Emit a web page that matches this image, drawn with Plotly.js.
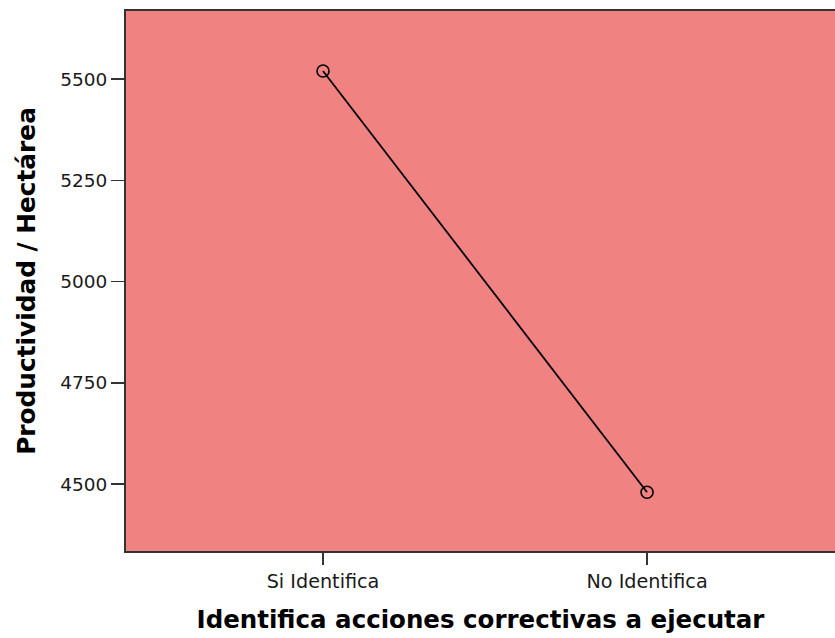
<!DOCTYPE html>
<html>
<head>
<meta charset="utf-8">
<script src="https://cdn.plot.ly/plotly-3.0.1.min.js"></script>
<style>html,body{margin:0;padding:0;background:#fff;}#chart{width:835px;height:638px;}</style>
</head>
<body>
<div id="chart"></div>
<script>
const categories = ["Si Identifica", "No Identifica"];
const meanValues = [5520, 4480];
const yTickValues = [4500, 4750, 5000, 5250, 5500];
const yTickLabels = ["4500", "4750", "5000", "5250", "5500"];

const trace = {
  x: [0, 1],
  y: meanValues,
  type: "scatter",
  mode: "lines+markers",
  line: {color: "#000000", width: 1.8},
  marker: {symbol: "circle-open", size: 12, color: "#000000", line: {width: 1.6, color: "#000000"}},
  hoverinfo: "x+y"
};

const layout = {
  width: 835,
  height: 638,
  margin: {l: 126, r: 0, t: 11, b: 87},
  paper_bgcolor: "#ffffff",
  plot_bgcolor: "#F08282",
  showlegend: false,
  font: {family: "DejaVu Sans, sans-serif", color: "#000000"},
  xaxis: {
    range: [-0.608, 1.58],
    tickmode: "array",
    tickvals: [0, 1],
    ticktext: categories,
    ticks: "outside",
    ticklen: 12,
    tickwidth: 1.5,
    tickcolor: "#333333",
    showgrid: false,
    zeroline: false,
    showline: true,
    linecolor: "#333333",
    linewidth: 2,
    mirror: true,
    tickfont: {family: "DejaVu Sans, sans-serif", size: 19.2, color: "#1a1a1a"},
    title: {text: "Identifica acciones correctivas a ejecutar", font: {family: "DejaVu Sans, sans-serif", size: 24.5, color: "#000000", weight: "bold"}, standoff: 19}
  },
  yaxis: {
    range: [4335, 5668],
    tickmode: "array",
    tickvals: yTickValues,
    ticktext: yTickLabels,
    ticks: "outside",
    ticklen: 13,
    tickwidth: 1.5,
    tickcolor: "#333333",
    showgrid: false,
    zeroline: false,
    showline: true,
    linecolor: "#333333",
    linewidth: 2,
    mirror: false,
    tickfont: {family: "DejaVu Sans, sans-serif", size: 18.5, color: "#1a1a1a"},
    title: {text: "Productividad / Hectárea", font: {family: "DejaVu Sans, sans-serif", size: 24.8, color: "#000000", weight: "bold"}, standoff: 18}
  }
};

Plotly.newPlot("chart", [trace], layout, {displayModeBar: false, staticPlot: true});
</script>
</body>
</html>
